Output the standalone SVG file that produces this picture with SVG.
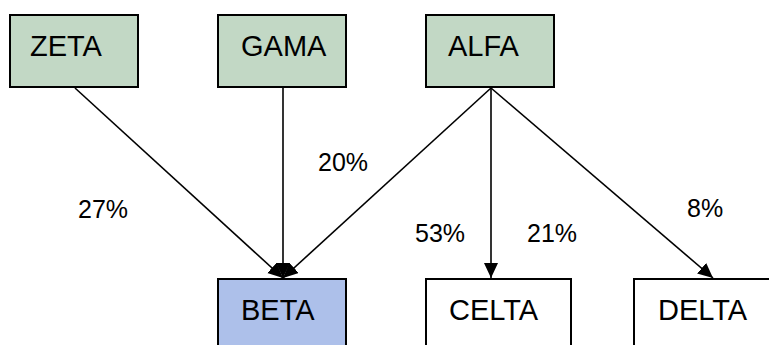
<svg xmlns="http://www.w3.org/2000/svg" width="769" height="345" viewBox="0 0 769 345">
<style>
.box{stroke:#000;stroke-width:2}
.g{fill:#c2d8c5}
.b{fill:#adc0ea}
.w{fill:#fff}
.t{font-family:"Liberation Sans",Arial,sans-serif;font-size:29px;fill:#000}
.p{font-family:"Liberation Sans",Arial,sans-serif;font-size:25px;fill:#000}
.c{stroke:#000;fill:none;stroke-width:1.6}
</style>
<defs>
<marker id="ah" markerUnits="userSpaceOnUse" markerWidth="16" markerHeight="15" refX="15" refY="7" orient="auto">
<path d="M0,0 L15,7 L0,14 z" fill="#000"/>
</marker>
</defs>
<rect width="769" height="345" fill="#fff"/>
<g id="connectors">
<line class="c" x1="75" y1="88" x2="283" y2="278" stroke-width="1.3" marker-end="url(#ah)"/>
<line class="c" x1="283" y1="88" x2="283" y2="278" stroke-width="2" marker-end="url(#ah)"/>
<line class="c" x1="491" y1="88" x2="283" y2="278" stroke-width="1.3" marker-end="url(#ah)"/>
<line class="c" x1="491" y1="88" x2="491" y2="278" marker-end="url(#ah)"/>
<line class="c" x1="491" y1="88" x2="713" y2="278" stroke-width="1.8" marker-end="url(#ah)"/>
</g>
<g id="labels">
<text class="p" x="78" y="218">27%</text>
<text class="p" x="318" y="171">20%</text>
<text class="p" x="415" y="242">53%</text>
<text class="p" x="527" y="242">21%</text>
<text class="p" x="687" y="217">8%</text>
</g>
<g id="zeta"><rect class="box g" x="10" y="15" width="128" height="72"/><text class="t" x="30" y="56">ZETA</text></g>
<g id="gama"><rect class="box g" x="218" y="15" width="128" height="72"/><text class="t" x="241" y="56">GAMA</text></g>
<g id="alfa"><rect class="box g" x="426" y="15" width="128" height="72"/><text class="t" x="448" y="56">ALFA</text></g>
<g id="beta"><rect class="box b" x="218" y="279" width="128" height="80"/><text class="t" x="241" y="320">BETA</text></g>
<g id="celta"><rect class="box w" x="426" y="279" width="145" height="80"/><text class="t" x="449" y="320">CELTA</text></g>
<g id="delta"><rect class="box w" x="634" y="279" width="145" height="80"/><text class="t" x="658" y="320">DELTA</text></g>
</svg>
